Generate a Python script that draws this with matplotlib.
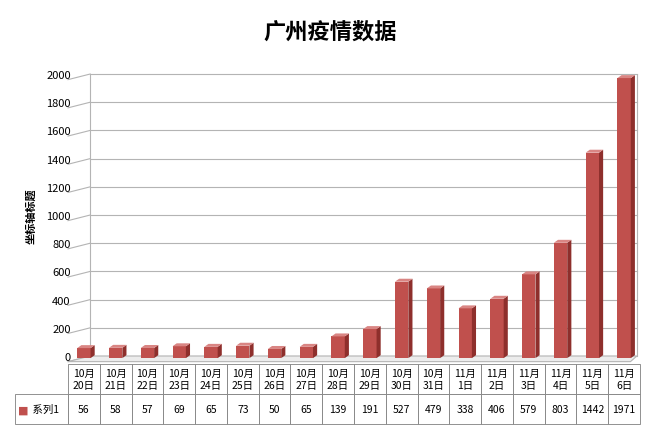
import matplotlib
matplotlib.use("Agg")
import matplotlib.pyplot as plt
from matplotlib.patches import Polygon

plt.rcParams['font.family'] = ['Noto Sans CJK SC', 'DejaVu Sans']

categories = ["10月\n20日","10月\n21日","10月\n22日","10月\n23日","10月\n24日","10月\n25日","10月\n26日","10月\n27日","10月\n28日","10月\n29日","10月\n30日","10月\n31日","11月\n1日","11月\n2日","11月\n3日","11月\n4日","11月\n5日","11月\n6日"]
values = [56,58,57,69,65,73,50,65,139,191,527,479,338,406,579,803,1442,1971]
series_name = "系列1"
yticks = list(range(0, 2001, 200))

fig = plt.figure(figsize=(6.6, 4.31), dpi=100)
ax = fig.add_axes([68/660, 74/431, 572/660, 282/431])
n = len(values)
ax.set_xlim(-0.5, n - 0.5)
ax.set_ylim(0, 2000)

gc = "#b4b4b4"
dxw, dyw = 0.7, 40
for t in yticks:
    ax.plot([-0.5 + dxw, n - 0.5 - 0.1], [t, t], color=gc, lw=0.8, zorder=0, clip_on=False)
    ax.plot([-0.5, -0.5 + dxw], [t - dyw, t], color=gc, lw=0.8, zorder=0, clip_on=False)
ax.plot([-0.5 + dxw, -0.5 + dxw], [0, 2000], color=gc, lw=0.8, zorder=0)
ax.plot([n - 0.6, n - 0.6], [0, 2000], color=gc, lw=0.8, zorder=0)
floor = Polygon([[-0.5, -dyw], [n - 0.8, -dyw], [n - 0.6, 0], [-0.5 + dxw, 0]],
                closed=True, facecolor="#ececec", edgecolor=gc, lw=0.8, zorder=0, clip_on=False)
ax.add_patch(floor)

w = 0.42
dx, dy = 0.13, 21
base = -15
for i, v in enumerate(values):
    x0 = i - w / 2
    ax.add_patch(Polygon([[x0, base], [x0 + w, base], [x0 + w, v], [x0, v]], closed=True,
                         facecolor="#c0504d", edgecolor="none", zorder=3, clip_on=False))
    ax.add_patch(Polygon([[x0 + w, base], [x0 + w + dx, base + dy], [x0 + w + dx, v + dy], [x0 + w, v]],
                         closed=True, facecolor="#8e2f2c", edgecolor="none", zorder=3, clip_on=False))
    ax.add_patch(Polygon([[x0, v], [x0 + w, v], [x0 + w + dx, v + dy], [x0 + dx, v + dy]],
                         closed=True, facecolor="#d98583", edgecolor="none", zorder=3, clip_on=False))

for s in ax.spines.values():
    s.set_visible(False)
ax.set_xticks([])
ax.set_yticks(yticks)
ax.set_yticklabels([str(t) for t in yticks], fontsize=8)
ax.tick_params(axis='y', length=0, pad=-2)
ax.set_ylabel("坐标轴标题", fontsize=8, fontweight='bold', labelpad=6)

fig.text(0.5, 0.925, "广州疫情数据", ha='center', va='center', fontsize=16, fontweight='bold')

cell_text = [[""] + categories, ["    " + series_name] + [str(v) for v in values]]
colw = [53 / 625] + [31.8 / 625] * n
tbl = ax.table(cellText=cell_text, colWidths=colw, cellLoc='center',
               bbox=[-53/572, -68/282, 625/572, 60/282])
tbl.auto_set_font_size(False)
tbl.set_fontsize(7.5)
for (r, c), cell in tbl.get_celld().items():
    cell.set_edgecolor("#808080")
    cell.set_linewidth(0.6)
    if r == 0 and c == 0:
        cell.visible_edges = ""
ax.text(-53/572 + 0.006, -54/282, "■", color="#c0504d", fontsize=8, transform=ax.transAxes,
        va='center', ha='left', family=['DejaVu Sans'])

fig.savefig("out.png", dpi=100)
